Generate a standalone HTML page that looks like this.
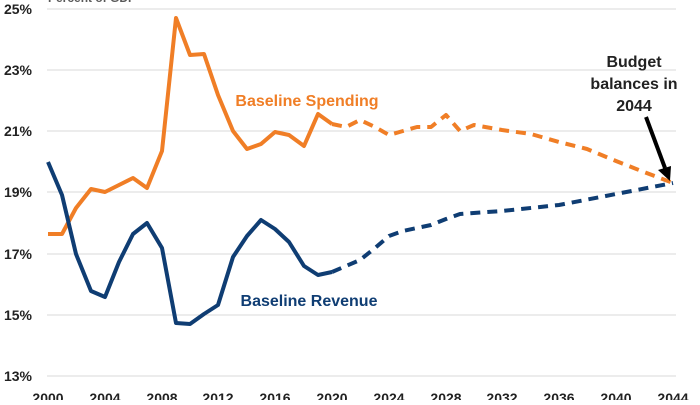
<!DOCTYPE html>
<html><head><style>
body{margin:0;background:#fff;}
svg text{font-family:"Liberation Sans",sans-serif;font-weight:bold;}
</style></head><body>
<svg width="700" height="400" viewBox="0 0 700 400" xmlns="http://www.w3.org/2000/svg">
<g stroke="#d9d9d9" stroke-width="1">
<line x1="47" x2="676" y1="9" y2="9"/><line x1="47" x2="676" y1="70" y2="70"/><line x1="47" x2="676" y1="131" y2="131"/><line x1="47" x2="676" y1="192" y2="192"/><line x1="47" x2="676" y1="254" y2="254"/><line x1="47" x2="676" y1="315" y2="315"/><line x1="47" x2="676" y1="376" y2="376"/>
</g>
<text x="48" y="2" font-size="12" fill="#595959">Percent of GDP</text>
<g font-size="14" fill="#222" text-anchor="end">
<text x="32" y="14">25%</text><text x="32" y="75">23%</text><text x="32" y="136">21%</text><text x="32" y="197">19%</text><text x="32" y="259">17%</text><text x="32" y="320">15%</text><text x="32" y="381">13%</text>
</g>
<g font-size="14" fill="#222" text-anchor="middle">
<text x="48" y="403">2000</text><text x="105" y="403">2004</text><text x="162" y="403">2008</text><text x="218" y="403">2012</text><text x="275" y="403">2016</text><text x="332" y="403">2020</text><text x="389" y="403">2024</text><text x="446" y="403">2028</text><text x="502" y="403">2032</text><text x="559" y="403">2036</text><text x="616" y="403">2040</text><text x="673" y="403">2044</text>
</g>
<g fill="none" stroke-width="4" stroke-linejoin="round">
<polyline stroke="#f07e26" points="48,234 62,234 76,208 91,189 105,192 119,185 133,178 147,188 162,151 176,18 190,55 204,54 218,95 233,131 247,149 261,144 275,132 289,135 304,146 318,114 332,124"/>
<polyline stroke="#f07e26" stroke-dasharray="10,7" points="332,124 346,127 360,120 375,127 389,135 403,131 417,127 431,127 446,115 460,131 474,125 502,130 531,134 559,142 587,149 616,161 644,172 673,183"/>
<polyline stroke="#0f3d73" points="48,162 62,195 76,254 91,291 105,297 119,262 133,234 147,223 162,248 176,323 190,324 204,314 218,305 233,257 247,236 261,220 275,229 289,242 304,266 318,275 332,272"/>
<polyline stroke="#0f3d73" stroke-dasharray="10,7" points="332,272 346,266 360,260 375,248 389,236 403,231 417,228 431,225 446,219 460,214 502,211 559,205 616,194 673,183"/>
</g>
<text x="307" y="106" font-size="16" fill="#f07e26" text-anchor="middle">Baseline Spending</text>
<text x="309" y="306" font-size="16" fill="#0f3d73" text-anchor="middle">Baseline Revenue</text>
<g font-size="16" fill="#222" text-anchor="middle">
<text x="634" y="67">Budget</text><text x="634" y="89">balances in</text><text x="634" y="111">2044</text>
</g>
<line x1="646" y1="117" x2="665" y2="168" stroke="#000" stroke-width="4"/>
<polygon points="658,170 671,166 670,181" fill="#000"/>
</svg>
</body></html>
